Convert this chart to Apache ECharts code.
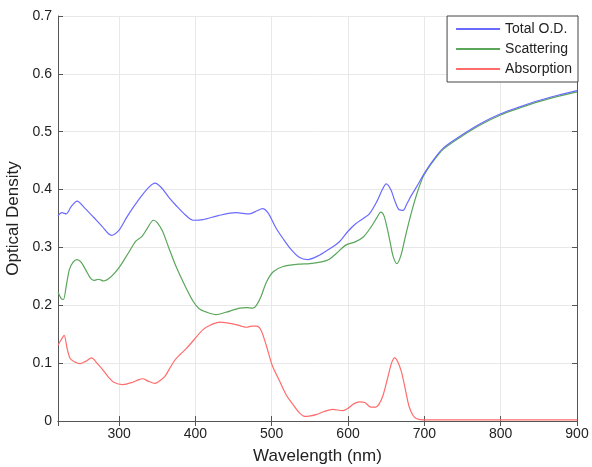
<!DOCTYPE html>
<html>
<head>
<meta charset="utf-8">
<script src="https://cdn.jsdelivr.net/npm/echarts@6/dist/echarts.min.js"></script>
<style>
  html, body { margin: 0; padding: 0; background: #fff; }
  #chart { width: 592px; height: 467px; }
</style>
</head>
<body>
<div id="chart"></div>
<script>
// Total O.D.
const totalNm = [220, 225, 231, 237, 245, 255, 266, 278, 290, 300, 310, 319, 330, 340, 347, 355, 365, 375, 387, 397,
  410, 430, 453, 471, 480, 488, 495, 505, 515, 525, 536, 547, 560, 575, 588, 600, 610, 620, 628, 638,
  645, 650, 656, 662, 667, 672, 677, 683, 690, 700, 710, 725, 750, 775, 800, 825, 850, 875, 900];
const totalOD = [0.355, 0.360, 0.358, 0.370, 0.380, 0.368, 0.353, 0.336, 0.321, 0.330, 0.352, 0.370, 0.390, 0.405, 0.411, 0.404, 0.387, 0.372, 0.356, 0.347,
  0.348, 0.355, 0.360, 0.358, 0.363, 0.367, 0.360, 0.335, 0.315, 0.297, 0.283, 0.279, 0.285, 0.297, 0.309, 0.328, 0.341, 0.350, 0.358, 0.380,
  0.400, 0.410, 0.400, 0.378, 0.365, 0.364, 0.375, 0.390, 0.405, 0.428, 0.448, 0.472, 0.495, 0.515, 0.531, 0.543, 0.554, 0.563, 0.571];

// Scattering
const scatNm = [220, 224, 227, 231, 235, 240, 245, 250, 256, 262, 267, 273, 280, 290, 300, 312, 322, 330, 337, 345,
  350, 357, 365, 375, 387, 397, 405, 415, 427, 440, 450, 458, 467, 475, 480, 486, 493, 502, 515, 535,
  550, 565, 575, 585, 597, 610, 620, 630, 638, 643, 647, 651, 655, 659, 664, 669, 674, 679, 684, 690,
  697, 700, 710, 725, 750, 775, 800, 825, 850, 875, 900];
const scatOD = [0.223, 0.212, 0.210, 0.235, 0.262, 0.275, 0.279, 0.275, 0.262, 0.248, 0.243, 0.245, 0.242, 0.250, 0.265, 0.290, 0.311, 0.319, 0.333, 0.347,
  0.343, 0.328, 0.300, 0.266, 0.232, 0.207, 0.194, 0.188, 0.184, 0.188, 0.192, 0.195, 0.196, 0.195, 0.200, 0.215, 0.240, 0.258, 0.267, 0.271,
  0.272, 0.275, 0.279, 0.290, 0.304, 0.310, 0.318, 0.335, 0.352, 0.361, 0.355, 0.335, 0.310, 0.285, 0.272, 0.285, 0.312, 0.340, 0.365, 0.392,
  0.418, 0.426, 0.446, 0.470, 0.493, 0.513, 0.529, 0.541, 0.552, 0.561, 0.569];

// Absorption
const absNm = [220, 224, 228, 232, 236, 242, 249, 256, 264, 271, 279, 286, 293, 305, 318, 325, 331, 338, 347, 353,
  360, 366, 373, 380, 388, 398, 410, 420, 432, 449, 460, 467, 474, 480, 486, 493, 501, 510, 519, 527,
  535, 543, 551, 558, 568, 580, 593, 600, 608, 615, 622, 630, 636, 641, 646, 652, 657, 661, 665, 670,
  675, 680, 685, 690, 700, 750, 800, 850, 900];
const absOD = [0.131, 0.140, 0.148, 0.125, 0.108, 0.102, 0.099, 0.103, 0.109, 0.100, 0.088, 0.076, 0.067, 0.063, 0.067, 0.071, 0.073, 0.069, 0.065, 0.069,
  0.077, 0.090, 0.105, 0.115, 0.125, 0.140, 0.158, 0.166, 0.171, 0.168, 0.164, 0.162, 0.164, 0.164, 0.157, 0.130, 0.095, 0.070, 0.045, 0.030,
  0.016, 0.008, 0.009, 0.011, 0.016, 0.020, 0.018, 0.022, 0.030, 0.033, 0.032, 0.024, 0.024, 0.030, 0.045, 0.075, 0.100, 0.109, 0.103, 0.085,
  0.055, 0.025, 0.010, 0.004, 0.002, 0.002, 0.002, 0.002, 0.002];

const pairs = (xs, ys) => xs.map((x, i) => [x, ys[i]]);

const chart = echarts.init(document.getElementById('chart'));
const font = 'Liberation Sans, Arial, sans-serif';
const axisColor = '#555';

const option = {
  backgroundColor: '#fff',
  animation: false,
  textStyle: { fontFamily: font },
  grid: { left: 58, top: 16, right: 15, bottom: 46, outerBoundsMode: 'none', containLabel: false },
  legend: {
    orient: 'vertical',
    right: 14,
    top: 16,
    backgroundColor: '#fff',
    borderColor: '#444',
    borderWidth: 1,
    borderRadius: 0,
    padding: [6, 6, 6, 8],
    itemWidth: 44,
    itemHeight: 14,
    itemGap: 6,
    itemStyle: { opacity: 0 },
    textStyle: { fontSize: 14, color: '#222', fontFamily: font },
    data: ['Total O.D.', 'Scattering', 'Absorption']
  },
  xAxis: [
    {
      type: 'value',
      min: 220,
      max: 900,
      splitNumber: 7,
      name: 'Wavelength (nm)',
      nameLocation: 'middle',
      nameGap: 27,
      nameTextStyle: { fontSize: 17, color: '#222' },
      axisLine: { lineStyle: { color: axisColor } },
      axisTick: { inside: true, length: 5, lineStyle: { color: axisColor } },
      axisLabel: { fontSize: 14, color: '#222', margin: 6, showMinLabel: false },
      splitLine: { show: true, lineStyle: { color: '#e8e8e8' } }
    },
    {
      type: 'value',
      position: 'top',
      min: 220,
      max: 900,
      splitNumber: 7,
      axisLine: { lineStyle: { color: axisColor } },
      axisTick: { inside: true, length: 5, lineStyle: { color: axisColor } },
      axisLabel: { show: false },
      splitLine: { show: false }
    }
  ],
  yAxis: [
    {
      type: 'value',
      min: 0,
      max: 0.7,
      interval: 0.1,
      name: 'Optical Density',
      nameLocation: 'middle',
      nameGap: 36,
      nameTextStyle: { fontSize: 17, color: '#222' },
      axisLine: { show: true, lineStyle: { color: axisColor } },
      axisTick: { show: true, inside: true, length: 5, lineStyle: { color: axisColor } },
      axisLabel: { fontSize: 14, color: '#222', margin: 6 },
      splitLine: { show: true, lineStyle: { color: '#e8e8e8' } }
    },
    {
      type: 'value',
      position: 'right',
      min: 0,
      max: 0.7,
      interval: 0.1,
      axisLine: { show: true, lineStyle: { color: axisColor } },
      axisTick: { show: true, inside: true, length: 5, lineStyle: { color: axisColor } },
      axisLabel: { show: false },
      splitLine: { show: false }
    }
  ],
  series: [
    {
      name: 'Scattering',
      type: 'line',
      data: pairs(scatNm, scatOD),
      smooth: 0.3,
      symbol: 'none',
      z: 2,
      color: '#5aa65a',
      lineStyle: { width: 1.2, color: '#5aa65a' }
    },
    {
      name: 'Total O.D.',
      type: 'line',
      data: pairs(totalNm, totalOD),
      smooth: 0.3,
      symbol: 'none',
      z: 3,
      color: '#6a6aff',
      lineStyle: { width: 1.2, color: '#6a6aff' }
    },
    {
      name: 'Absorption',
      type: 'line',
      data: pairs(absNm, absOD),
      smooth: 0.3,
      symbol: 'none',
      z: 2,
      color: '#ff6c6c',
      lineStyle: { width: 1.2, color: '#ff6c6c' }
    }
  ]
};

chart.setOption(option);
</script>
</body>
</html>
